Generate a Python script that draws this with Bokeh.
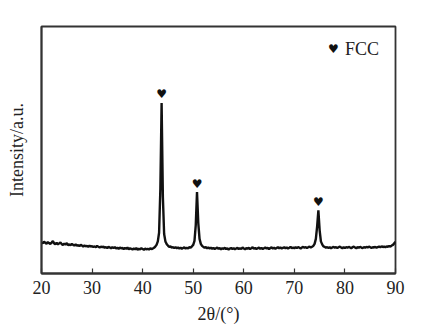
import numpy as np
from bokeh.plotting import figure
from bokeh.models import FixedTicker, Label, Range1d, ColumnDataSource
from bokeh.core.properties import value
from bokeh.embed import file_html
from bokeh.resources import INLINE

# 2theta grid (degrees), sampled every 0.25 deg
two_theta = np.round(np.arange(20.0, 90.0001, 0.25), 2)

# intensity (a.u.)
intensity = [
    12.6, 12.2, 12.9, 12.4, 12.1, 12.7, 12.3, 12.0,
    12.5, 13.1, 12.2, 11.9, 12.4, 11.8, 12.2, 12.6,
    11.9, 11.6, 12.1, 11.7, 12.3, 11.5, 11.8, 11.4,
    12.0, 11.6, 11.3, 11.8, 11.2, 11.5, 11.1, 11.6,
    11.3, 10.9, 11.4, 11.0, 11.2, 10.8, 11.3, 10.9,
    11.1, 10.7, 11.0, 10.6, 11.2, 10.8, 10.5, 10.9,
    10.6, 10.9, 10.4, 10.7, 10.3, 10.8, 10.5, 10.2,
    10.6, 10.3, 10.7, 10.1, 10.4, 10.0, 10.5, 10.2,
    10.4, 9.9, 10.3, 10.0, 10.5, 9.8, 10.2, 10.0,
    9.7, 10.1, 9.8, 10.3, 9.6, 10.0, 9.8, 10.2,
    9.9, 9.6, 10.1, 9.8, 10.0, 9.7, 10.2, 9.9,
    10.1, 10.4, 10.9, 11.6,
    13.0, 16.5, 34.0, 69.0, 31.0, 16.0, 13.0, 11.9,
    11.3, 10.8, 11.0, 10.5,
    10.7, 10.3, 10.6, 10.2, 10.5, 10.1, 10.4, 10.0,
    10.3, 10.6, 10.1, 10.4, 10.2, 10.7, 10.5, 11.0,
    11.6, 13.2, 19.5, 33.0, 20.5, 14.0, 12.0, 11.2,
    10.8, 10.4, 10.7, 10.2, 10.5, 10.1, 10.4, 10.0,
    10.3, 9.9, 10.2, 10.5, 10.0, 10.3, 9.8, 10.2,
    10.0, 10.4, 9.9, 10.2, 9.7, 10.1, 10.3, 9.9,
    10.2, 9.8, 10.1, 10.4, 9.9, 10.2, 10.0, 10.5,
    10.1, 9.8, 10.3, 10.0, 10.4, 9.9, 10.2, 10.6,
    10.0, 10.3, 9.9, 10.2, 10.5, 10.0, 10.3, 9.9,
    10.2, 10.5, 10.1, 10.4, 9.9, 10.3, 10.6, 10.1,
    10.4, 10.0, 10.3, 10.7, 10.2, 10.5, 10.1, 10.4,
    10.6, 10.2, 10.5, 10.1, 10.4, 10.8, 10.3, 10.5,
    10.2, 10.6, 10.3, 10.7, 10.4, 10.1, 10.5, 10.8,
    10.4, 10.7, 10.3, 10.6, 10.9, 10.5, 10.8, 11.2,
    12.0, 14.0, 19.0, 25.6, 17.5, 13.0, 11.8, 11.0,
    10.8, 10.4, 10.7, 10.3, 10.6, 10.2, 10.5, 10.8,
    10.4, 10.7, 10.3, 10.6, 10.9, 10.5, 10.2, 10.6,
    10.3, 10.7, 10.4, 10.8, 10.5, 10.2, 10.6, 10.9,
    10.5, 10.2, 10.7, 10.4, 10.8, 10.5, 10.3, 10.7,
    10.4, 10.8, 10.5, 10.9, 10.6, 10.3, 10.7, 10.5,
    10.8, 10.4, 10.7, 10.9, 10.6, 11.0, 10.7, 10.9,
    10.6, 11.0, 10.8, 11.1, 10.9, 11.3, 11.6, 12.2,
    12.8,
]
assert len(intensity) == len(two_theta), (len(intensity), len(two_theta))

# FCC peak markers
fcc_peaks = [43.75, 50.75, 74.75]
fcc_marker_y = [72.6, 36.4, 29.0]

x_ticks = [20, 30, 40, 50, 60, 70, 80, 90]

SERIF = "'Liberation Serif', 'Times New Roman', serif"
INK = "#222222"

p = figure(width=416, height=328, output_backend="svg", toolbar_location=None,
           x_range=Range1d(20, 90), y_range=Range1d(0, 100),
           min_border_left=41, min_border_right=21, min_border_top=26,
           min_border_bottom=55)
p.background_fill_color = "white"
p.border_fill_color = "white"
p.outline_line_color = "#333333"
p.outline_line_width = 1.8
p.xgrid.visible = False
p.ygrid.visible = False

src = ColumnDataSource(dict(x=two_theta, y=intensity))
p.line("x", "y", source=src, line_color="#111111", line_width=2.4)

hs = ColumnDataSource(dict(x=fcc_peaks, y=fcc_marker_y, t=["\u2665"] * 3))
p.text("x", "y", text="t", source=hs, text_font=value("DejaVu Sans"),
       text_font_size="12px", text_align="center", text_baseline="middle",
       text_color="#111111")

# x axis
xa = p.xaxis[0]
xa.ticker = FixedTicker(ticks=x_ticks)
xa.minor_tick_line_color = None
xa.major_tick_in = 5
xa.major_tick_out = 0
xa.major_tick_line_color = "#333333"
xa.major_tick_line_width = 1.2
xa.axis_line_color = "#333333"
xa.axis_line_width = 1.8
xa.major_label_text_font = SERIF
xa.major_label_text_font_size = "18px"
xa.major_label_text_color = INK
xa.major_label_standoff = 7
xa.axis_label = "2θ/(°)"
xa.axis_label_text_font = SERIF
xa.axis_label_text_font_size = "18px"
xa.axis_label_text_font_style = "normal"
xa.axis_label_text_color = INK
xa.axis_label_standoff = 7

# y axis (no ticks)
ya = p.yaxis[0]
ya.ticker = FixedTicker(ticks=[])
ya.minor_tick_line_color = None
ya.major_tick_in = 0
ya.major_tick_out = 0
ya.major_label_standoff = 0
ya.axis_line_color = "#333333"
ya.axis_line_width = 1.8
ya.axis_label = "Intensity/a.u."
ya.axis_label_text_font = SERIF
ya.axis_label_text_font_size = "18px"
ya.axis_label_text_font_style = "normal"
ya.axis_label_text_color = INK
ya.axis_label_standoff = 15

# legend
p.add_layout(Label(x=77.7, y=90.7, text="\u2665", text_font="DejaVu Sans",
                   text_font_size="12px", text_align="center",
                   text_baseline="middle", text_color="#111111"))
p.add_layout(Label(x=80.0, y=90.7, text="FCC", text_font=SERIF,
                   text_font_size="18px", text_align="left",
                   text_baseline="middle", text_color=INK))

open("out.html", "w").write(file_html(p, INLINE))
